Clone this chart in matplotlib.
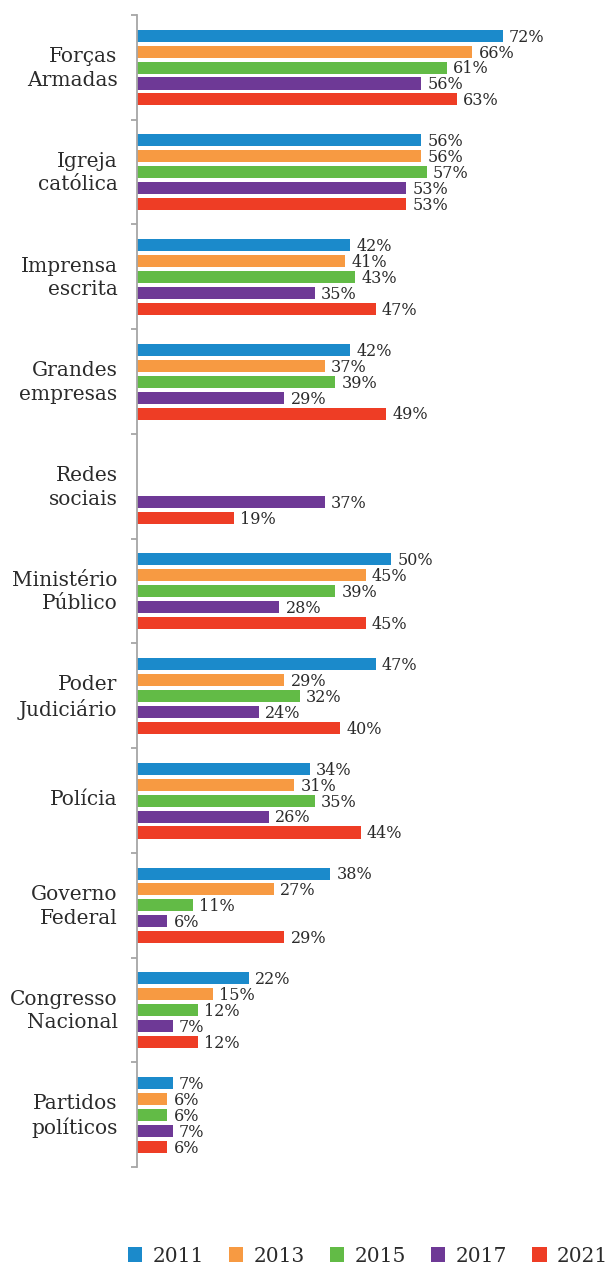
import numpy as np
import matplotlib.pyplot as plt
from matplotlib.patches import Patch

plt.rcParams['font.family'] = 'DejaVu Serif'

categories = ['Forças\nArmadas', 'Igreja\ncatólica', 'Imprensa\nescrita',
              'Grandes\nempresas', 'Redes\nsociais', 'Ministério\nPúblico',
              'Poder\nJudiciário', 'Polícia', 'Governo\nFederal',
              'Congresso\nNacional', 'Partidos\npolíticos']
years = ['2011', '2013', '2015', '2017', '2021']
colors = ['#1b8acb', '#f79a42', '#62bb46', '#6e3996', '#ee3d25']

# None = no survey for that year
v2011 = [72, 56, 42, 42, None, 50, 47, 34, 38, 22, 7]
v2013 = [66, 56, 41, 37, None, 45, 29, 31, 27, 15, 6]
v2015 = [61, 57, 43, 39, None, 39, 32, 35, 11, 12, 6]
v2017 = [56, 53, 35, 29, 37, 28, 24, 26, 6, 7, 7]
v2021 = [63, 53, 47, 49, 19, 45, 40, 44, 29, 12, 6]
series = [v2011, v2013, v2015, v2017, v2021]

text_color = '#2b2b2b'
axis_color = '#a6a6a6'

fig = plt.figure(figsize=(6.13, 12.72), dpi=100)
ax = fig.add_axes([137 / 613, 105 / 1272, 476 / 613, 1152 / 1272])

n = len(categories)
first, step, height = 0.198, 0.152, 0.115

for k, vals in enumerate(series):
    for i, v in enumerate(vals):
        if v is None:
            continue
        y = i + first + k * step
        ax.barh(y, v, height=height, color=colors[k], linewidth=0)
        ax.annotate(f'{v}%', (v, y), xytext=(4.5, -1), textcoords='offset points',
                    va='center', ha='left', fontsize=11.5, color=text_color)

ax.set_ylim(n, 0)
ax.set_xlim(0, 93.7)

for s in ['top', 'right', 'bottom']:
    ax.spines[s].set_visible(False)
ax.spines['left'].set_color(axis_color)
ax.spines['left'].set_linewidth(1.3)
ax.set_xticks([])

# group separators on the axis, category names in between
ax.set_yticks(np.arange(n + 1))
ax.set_yticklabels([])
ax.tick_params(axis='y', which='major', length=4.5, width=1.3, color=axis_color)
ax.set_yticks(np.arange(n) + 0.47, minor=True)
ax.set_yticklabels(categories, minor=True, fontsize=14.5, color=text_color)
ax.tick_params(axis='y', which='minor', length=0, pad=14)
plt.setp(ax.get_yticklabels(minor=True), linespacing=1.3)

handles = [Patch(facecolor=c, edgecolor='none') for c in colors]
fig.legend(handles, years, loc='center', bbox_to_anchor=(0.600, 0.0125), ncol=5,
           frameon=False, fontsize=14.5, handlelength=0.72, handleheight=0.72,
           handletextpad=0.5, columnspacing=1.25, labelcolor=text_color)

fig.savefig('out.png', dpi=100)
